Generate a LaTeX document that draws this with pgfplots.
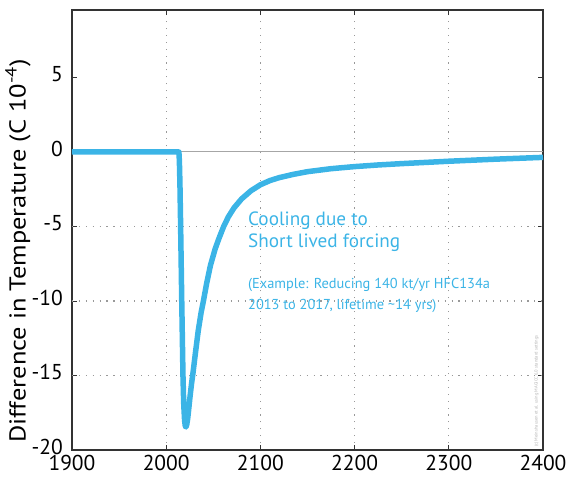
\documentclass[border=0pt]{standalone}
\usepackage{pgfplots}
\pgfplotsset{compat=1.18}
\usepackage{fontspec}
\setmainfont{PT Sans}
\definecolor{hblue}{RGB}{59,180,230}
\begin{document}
\begin{tikzpicture}
\useasboundingbox (-72pt,-27pt) rectangle (500pt,450pt);
\begin{axis}[name=ax, at={(0,0)}, anchor=south west,
  scale only axis, width=471pt, height=440pt,
  xmin=1900, xmax=2400, ymin=-20, ymax=9.53,
  xtick={1900,2000,2100,2200,2300,2400},
  xticklabels={1900,2000,2100,2200,2300,2400},
  ytick={-20,-15,-10,-5,0,5},
  yticklabels={-20,-15,-10,-5,0,5},
  tick align=inside, major tick length=5pt,
  axis line style={draw=black!80, line width=1.1pt},
  tick style={draw=black!80, line width=1pt},
  ticklabel style={font=\fontsize{21.5}{21.5}\selectfont, inner sep=0pt},
  xticklabel style={yshift=-5pt},
  yticklabel style={xshift=-9pt, yshift=3.5pt},
  xmajorgrids=true,
  grid style={draw=black!40, line width=1.1pt, dash pattern=on 1.1pt off 5.8pt},
  clip=false,
]
\draw[black!40, line width=1.1pt, dash pattern=on 1.1pt off 5.8pt] (axis cs:1900,-5) -- (axis cs:2400,-5);
\draw[black!40, line width=1.1pt, dash pattern=on 1.1pt off 5.8pt] (axis cs:1900,-10) -- (axis cs:2400,-10);
\draw[black!40, line width=1.1pt, dash pattern=on 1.1pt off 5.8pt] (axis cs:1900,-15) -- (axis cs:2400,-15);
\draw[black!35, line width=1pt] (axis cs:1900,0) -- (axis cs:2400,0);
\addplot[hblue, line width=5.5pt, line join=round] coordinates {
(1900,0) (2013.5,0) (2014,-0.6) (2014.6,-2.2) (2015.2,-4.5) (2015.8,-7) (2016.5,-10)
(2017.2,-12.7) (2017.8,-15) (2018.6,-16.9) (2019.5,-18) (2020.3,-18.4) (2021,-18.45)
(2021.8,-18.3) (2022.8,-17.9) (2024,-17.2) (2025.5,-16.3) (2027,-15.5) (2028.5,-14.8)
(2031,-13.5) (2034,-12.0) (2037,-10.8) (2039.5,-10.0) (2043,-8.8) (2047,-7.6)
(2052,-6.5) (2056,-5.8) (2061,-5.0) (2066,-4.35) (2072,-3.75) (2080,-3.15)
(2090,-2.6) (2100,-2.2) (2110,-1.92) (2120,-1.72) (2135,-1.5) (2150,-1.32)
(2175,-1.12) (2200,-0.98) (2225,-0.87) (2250,-0.78) (2275,-0.70) (2300,-0.62)
(2325,-0.55) (2350,-0.48) (2375,-0.42) (2400,-0.36)
};
\node[anchor=base west, text=hblue, font=\fontsize{19.2}{19}\selectfont, inner sep=0pt] at (axis cs:2086.8,-4.90) {Cooling due to};
\node[anchor=base west, text=hblue, font=\fontsize{19.2}{19}\selectfont, inner sep=0pt] at (axis cs:2086.8,-6.44) {Short lived forcing};
\node[anchor=base west, text=hblue, font=\fontsize{14.4}{14}\selectfont, inner sep=0pt] at (axis cs:2086.8,-9.13) {(Example: Reducing 140 kt/yr HFC134a};
\node[anchor=base west, text=hblue, font=\fontsize{14.4}{14}\selectfont, inner sep=0pt] at (axis cs:2086.8,-10.60) {2013 to 2017, lifetime \textasciitilde14 yrs)};
\node[anchor=west, rotate=90, text=black!30, font=\fontsize{4.5}{5}\selectfont, inner sep=0pt] at (axis cs:2393,-19.8) {(c) Meinshausen et al. using MAGICC 6.0 standard settings};
\end{axis}
\node[rotate=90, anchor=center, font=\fontsize{23}{23}\selectfont, inner sep=0pt] at ([xshift=-54pt, yshift=-21pt]ax.west) {\scalebox{1.15}[1]{Difference in Temperature (C 10\textsuperscript{-4})}};
\end{tikzpicture}
\end{document}
